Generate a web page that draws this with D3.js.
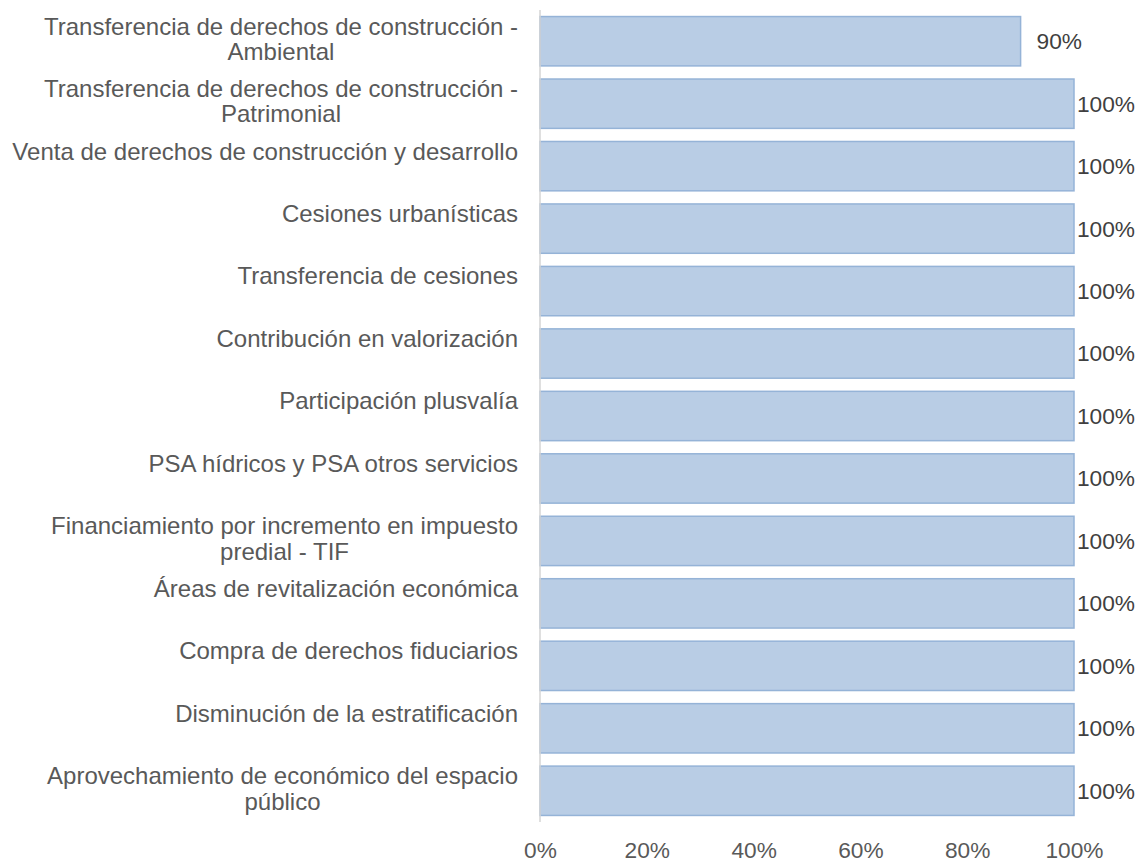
<!DOCTYPE html>
<html>
<head>
<meta charset="utf-8">
<script src="https://cdn.jsdelivr.net/npm/d3@7"></script>
<style>
  body { margin: 0; background: #fff; }
  svg { display: block; font-family: "Liberation Sans", Arial, sans-serif; }
</style>
</head>
<body>
<script>
// categories, top to bottom (\n = line break as in the chart)
var categories = [
    "Transferencia de derechos de construcción -\nAmbiental",
    "Transferencia de derechos de construcción -\nPatrimonial",
    "Venta de derechos de construcción y desarrollo",
    "Cesiones urbanísticas",
    "Transferencia de cesiones",
    "Contribución en valorización",
    "Participación plusvalía",
    "PSA hídricos y PSA otros servicios",
    "Financiamiento por incremento en impuesto\npredial - TIF",
    "Áreas de revitalización económica",
    "Compra de derechos fiduciarios",
    "Disminución de la estratificación",
    "Aprovechamiento de económico del espacio\npúblico"
]
var values = [0.9, 1, 1, 1, 1, 1, 1, 1, 1, 1, 1, 1, 1]
var tickValues = [0, 0.2, 0.4, 0.6, 0.8, 1]

var width = 1141,
    height = 863

var svg = d3.select("body").append("svg")
    .attr("width", width)
    .attr("height", height)

var x = d3.scaleLinear().domain([0, 1]).range([540, 1074])
var y = d3.scaleBand().domain(categories).range([10, 822])
    .paddingInner(0.21).paddingOuter(0.105)

var rows = categories.map(function (c, i) { return { cat: c, val: values[i] } })

// bars
svg.append("g")
    .selectAll("rect")
    .data(rows)
    .enter()
    .append("rect")
    .attr("x", x(0))
    .attr("y", d => y(d.cat))
    .attr("width", d => x(d.val) - x(0))
    .attr("height", y.bandwidth())
    .style("fill", "#b9cde5")
    .style("stroke", "#95b3d7")
    .style("stroke-width", 1.5)

// vertical axis line
svg.append("line")
    .attr("x1", x(0)).attr("x2", x(0))
    .attr("y1", y.range()[0]).attr("y2", y.range()[1])
    .style("stroke", "#d4d4d4")
    .style("stroke-width", 1.5)

// category labels, lines centred on each other, block right aligned
var labelRight = 518,
    lineH = 25.4
var labels = svg.append("g")
    .selectAll("text")
    .data(rows)
    .enter()
    .append("text")
    .style("font-size", "24px")
    .style("fill", "#595959")
    .attr("text-anchor", "middle")

labels.each(function (d) {
    var t = d3.select(this)
    var lines = d.cat.split("\n")
    var cy = y(d.cat) + y.bandwidth() / 2 - 15
    lines.forEach(function (l, i) {
        t.append("tspan")
            .attr("x", 0)
            .attr("y", cy + i * lineH)
            .attr("dy", "0.35em")
            .text(l)
    })
    var w = 0
    t.selectAll("tspan").each(function () { w = Math.max(w, this.getComputedTextLength()) })
    t.selectAll("tspan").attr("x", labelRight - w / 2)
})

// value labels, kept inside the chart area
svg.append("g")
    .selectAll("text")
    .data(rows)
    .enter()
    .append("text")
    .attr("y", d => y(d.cat) + y.bandwidth() / 2)
    .attr("dy", "0.35em")
    .style("font-size", "22.7px")
    .style("fill", "#404040")
    .text(d => d3.format(".0%")(d.val))
    .attr("x", function (d) {
        var w = this.getComputedTextLength()
        return Math.min(x(d.val) + 16, 1135 - w)
    })

// x axis labels
var xAxis = d3.axisBottom(x)
    .tickValues(tickValues)
    .tickFormat(d3.format(".0%"))
    .tickSize(0)
    .tickPadding(20)

var gx = svg.append("g")
    .attr("transform", "translate(0," + y.range()[1] + ")")
    .call(xAxis)
gx.select(".domain").remove()
gx.selectAll("text")
    .style("font-size", "22.7px")
    .style("font-family", "Liberation Sans, Arial, sans-serif")
    .style("fill", "#595959")
</script>
</body>
</html>
